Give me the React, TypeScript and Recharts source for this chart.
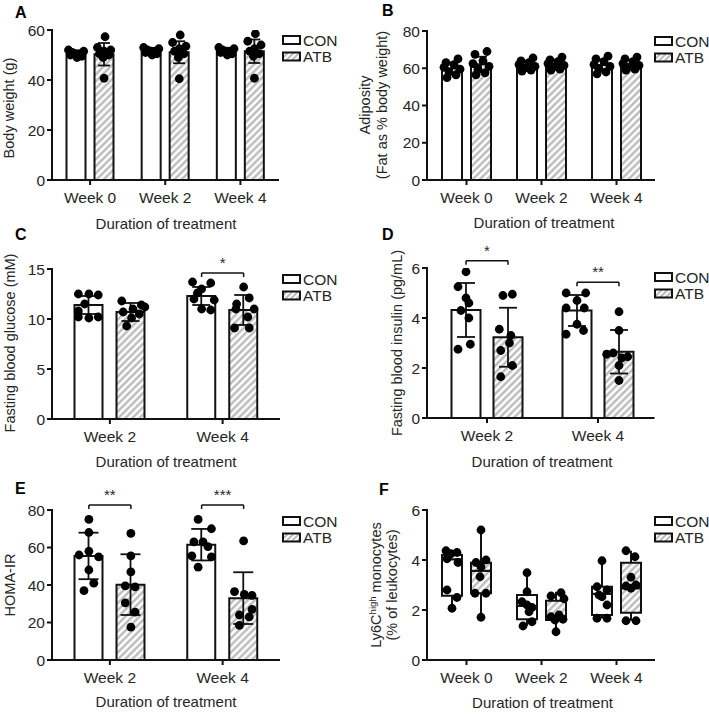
import React from 'react'
import { ComposedChart, Bar, Scatter, XAxis, YAxis, ErrorBar, ReferenceLine } from 'recharts'

const FONT = '"Liberation Sans", Arial, Helvetica, sans-serif'
const INK = '#111111'
const TEXT = '#262626'
const HATCH = '#b4b4b4'

const weeks3 = ['Week 0', 'Week 2', 'Week 4']
const weeks2 = ['Week 2', 'Week 4']
const groups = ['CON', 'ATB']

// A: body weight (g)
const bwConMean = [50.4, 51.4, 51.4]
const bwConSd = [1.0, 1.0, 1.0]
const bwAtbMean = [50.3, 51.1, 51.5]
const bwAtbSd = [4.5, 4.4, 4.7]
const bwConDots = [
  [52, 51.5, 51, 50.5, 50.5, 50, 49.5, 49],
  [53, 52.5, 52, 51.5, 51.5, 51, 50.5, 50],
  [53, 52.5, 52, 51.5, 51.5, 51, 50.5, 50],
]
const bwAtbDots = [
  [57.3, 53, 52, 51.5, 50.5, 50, 49, 40.7],
  [58, 55, 53.5, 52.5, 51.5, 50.5, 49, 40.5],
  [58.5, 55.5, 54, 52.5, 51.5, 50.5, 49.5, 40.7],
]

// B: adiposity (fat as % body weight)
const adConMean = [59.8, 61.7, 61.7]
const adConSd = [3.2, 2.3, 3.0]
const adAtbMean = [62.2, 62.1, 62.2]
const adAtbSd = [4.0, 2.2, 2.3]
const adConDots = [
  [65, 63, 62, 60.5, 59.5, 58, 56.5, 55],
  [65.5, 64, 63, 62, 61, 60, 59, 58.5],
  [66.5, 65, 63.5, 62, 61, 59.5, 58, 57],
]
const adAtbDots = [
  [69, 67.5, 64, 62.5, 61, 59.5, 57.5, 56.5],
  [66, 64.5, 63.5, 62.5, 61.5, 60.5, 59.5, 59],
  [66, 65, 63.5, 62.5, 61.5, 60.5, 59.5, 59],
]

// C: fasting blood glucose (mM)
const gluConMean = [11.4, 12.3]
const gluConSd = [0.9, 0.9]
const gluAtbMean = [10.7, 10.9]
const gluAtbSd = [0.9, 1.5]
const gluConDots = [
  [12.5, 12.5, 12.4, 11.5, 10.8, 10.2, 10.1, 10.2],
  [13.7, 13.6, 13.0, 12.6, 12.0, 11.9, 11.0, 10.9],
]
const gluAtbDots = [
  [11.8, 11.4, 11.0, 10.7, 10.1, 9.3, 10.5, 11.2],
  [13.2, 12.1, 11.5, 11.0, 11.0, 10.2, 9.1, 9.1],
]

// D: fasting blood insulin (pg/mL)
const insConMean = [4.32, 4.3]
const insConSd = [1.08, 0.62]
const insAtbMean = [3.23, 2.65]
const insAtbSd = [1.18, 0.87]
const insConDots = [
  [5.85, 5.25, 4.8, 4.6, 4.3, 4.0, 2.95, 2.75],
  [5.0, 5.0, 4.7, 4.4, 4.4, 3.75, 3.5, 3.35],
]
const insAtbDots = [
  [4.95, 4.9, 3.55, 3.3, 3.0, 2.7, 2.1, 1.65],
  [4.25, 3.5, 2.6, 2.55, 2.45, 2.4, 2.1, 1.5],
]

// E: HOMA-IR
const homaConMean = [55.5, 61.5]
const homaConSd = [12.4, 8.4]
const homaAtbMean = [40.2, 33.0]
const homaAtbSd = [16.2, 13.8]
const homaConDots = [
  [75, 68, 58, 56, 55, 48, 41, 37],
  [75, 70, 63, 63, 60.5, 55.5, 55, 49.5],
]
const homaAtbDots = [
  [67.5, 55.5, 47, 39.5, 39, 30.5, 25.5, 17.5],
  [63.5, 36.5, 35, 34.5, 27, 24, 23, 18.5],
]

// F: Ly6C-high monocytes (% of leukocytes), box = min / q1 / median / q3 / max
const monoConMin = [2.07, 1.36, 1.67]
const monoConQ1 = [2.57, 1.63, 1.8]
const monoConMed = [4.03, 2.16, 2.65]
const monoConQ3 = [4.2, 2.6, 2.93]
const monoConMax = [4.37, 3.49, 3.97]
const monoAtbMin = [1.71, 1.13, 1.57]
const monoAtbQ1 = [2.67, 1.6, 1.89]
const monoAtbMed = [3.57, 1.75, 2.87]
const monoAtbQ3 = [3.89, 2.37, 3.89]
const monoAtbMax = [5.2, 2.73, 4.37]
const monoConDots = [
  [4.37, 4.3, 4.25, 4.05, 3.9, 2.8, 2.5, 2.07],
  [3.49, 2.73, 2.33, 2.2, 2.1, 1.93, 1.53, 1.36],
  [3.97, 2.93, 2.8, 2.6, 2.53, 2.2, 1.67, 1.67],
]
const monoAtbDots = [
  [5.2, 4.0, 3.9, 3.73, 3.33, 2.67, 2.67, 1.71],
  [2.69, 2.56, 2.45, 1.8, 1.73, 1.63, 1.6, 1.13],
  [4.37, 4.13, 3.31, 3.0, 2.96, 2.87, 1.57, 1.57],
]

// horizontal scatter of the dots, in half bar widths
const rowJit = [-0.8, 0.8, -0.4, 0.4, 0, -0.6, 0.6, 0.1]
const looseJit = [0.1, -0.7, 0.7, 0, -0.5, 0.5, -0.1, 0]
const adJit = [0.6, -0.6, 0.2, -0.8, 0.8, -0.3, 0.4, -0.5]
const gluConJit = [[-0.75, 0, 0.67, -0.3, -0.75, -0.75, 0, 0.67], [-0.65, 0.65, 0, -0.3, -0.55, 0.9, 0, 0.65]]
const gluAtbJit = [[-0.65, 0.75, 0.15, -0.55, 0.05, -0.3, 0.6, 1.0], [0, 0.4, -0.5, -0.55, 0.75, 0.3, -0.65, 0.4]]
const insConJit = [[0, -0.55, 0, 0.2, -0.35, 0.2, 0.3, -0.55], [-0.75, 0.6, 0, -0.75, 0.5, 0, 0.45, -0.75]]
const insAtbJit = [[0.3, -0.35, -0.6, 0.2, 0.1, -0.5, 0.3, -0.5], [0, 0, -0.4, -0.85, 0.6, 0.2, 0, 0]]
const homaConJit = [[0, 0, 0, -0.7, 0.7, 0, 0.35, -0.35], [-0.25, 0.7, -0.55, 0.1, 0.45, -0.7, 0.7, -0.25]]
const homaAtbJit = [[0, 0, 0, -0.4, 0.3, -0.4, 0.3, 0], [0, -0.65, 0.05, 0.6, 0.6, -0.3, 0.4, -0.3]]
const monoConJit = [[-0.6, 0.5, -0.1, -0.5, 0.6, -0.5, 0.5, 0], [0, 0, -0.5, 0, 0.5, 0.2, 0.5, -0.4], [0, -0.5, 0.5, -0.3, 0, 0.5, -0.5, 0.5]]
const monoAtbJit = [[0, 0.5, -0.5, 0, -0.1, -0.6, 0.5, 0], [0.5, -0.5, 0.8, 0.3, -0.5, 0.7, -0.1, 0], [-0.5, 0.4, 0, 0.5, -0.5, 0, -0.5, 0.5]]

type Rect = { left: number; right: number; top: number; bottom: number }
type Bracket = { i: number; y: number; label: string }

const PAD_L = 60
const PAD_T = 45
const PAD_R = 10
const PAD_B = 40
const YW = 40
const XH = 30

const tickStyle = { fill: TEXT, fontSize: 15.5, fontFamily: FONT }
const axisLine = { stroke: INK, strokeWidth: 2, strokeLinecap: 'square' as const }
const tickLine = { stroke: INK, strokeWidth: 2 }

const dot = (p: any) => <circle cx={p.cx} cy={p.cy} r={4.4} fill="#000" />

function Hatch({ id }: { id: string }) {
  return (
    <pattern id={id} patternUnits="userSpaceOnUse" width={5} height={5} patternTransform="rotate(45)">
      <rect width={5} height={5} fill="#fff" />
      <line x1={1.5} y1={0} x2={1.5} y2={5} stroke={HATCH} strokeWidth={2.2} />
    </pattern>
  )
}

function frame(rect: Rect) {
  const plotW = rect.right - rect.left
  const plotH = rect.bottom - rect.top
  return {
    plotW,
    plotH,
    width: plotW + PAD_L + PAD_R,
    height: plotH + PAD_T + PAD_B,
    style: { position: 'absolute' as const, left: rect.left - PAD_L, top: rect.top - PAD_T },
    margin: { top: PAD_T, right: PAD_R, left: PAD_L - YW, bottom: PAD_B - XH },
  }
}

function dotsFor(values: number[][], jit: number[][] | number[], side: number, spread: number, half: number) {
  return values.flatMap((vals, i) =>
    vals.map((v, k) => {
      const j = Array.isArray(jit[0]) ? (jit as number[][])[i][k] : (jit as number[])[k]
      return { x: i + 0.5 + side * spread + j * half, y: v }
    }),
  )
}

type BarPanelProps = {
  id: string
  cats: string[]
  rect: Rect
  padLeft: number
  yMax: number
  ticks: number[]
  barSize: number
  barGap: number
  capW: number
  conMean: number[]
  conSd: number[]
  atbMean: number[]
  atbSd: number[]
  conDots: number[][]
  atbDots: number[][]
  conJit: number[][] | number[]
  atbJit: number[][] | number[]
  brackets?: Bracket[]
}

function BarPanel(p: BarPanelProps) {
  const f = frame(p.rect)
  const band = (f.plotW - p.padLeft) / p.cats.length
  const spread = (p.barSize + p.barGap) / 2 / band
  const half = p.barSize / 2 / band
  const rows = p.cats.map((week, i) => ({
    week,
    con: p.conMean[i],
    conSd: p.conSd[i],
    atb: p.atbMean[i],
    atbSd: p.atbSd[i],
  }))
  const conPts = dotsFor(p.conDots, p.conJit, -1, spread, half)
  const atbPts = dotsFor(p.atbDots, p.atbJit, 1, spread, half)
  const tick = (p.yMax * 4) / f.plotH
  const hatchId = `hatch-${p.id}`

  return (
    <div style={f.style}>
      <ComposedChart width={f.width} height={f.height} data={rows} margin={f.margin} barGap={p.barGap}>
        <defs>
          <Hatch id={hatchId} />
        </defs>
        <XAxis
          xAxisId="cat"
          dataKey="week"
          height={XH}
          interval={0}
          tickSize={5}
          tickMargin={7}
          padding={{ left: p.padLeft, right: 0 }}
          axisLine={axisLine}
          tickLine={tickLine}
          tick={tickStyle}
        />
        <XAxis
          xAxisId="num"
          type="number"
          dataKey="x"
          domain={[0, p.cats.length]}
          padding={{ left: p.padLeft, right: 0 }}
          allowDataOverflow
          hide
        />
        <YAxis
          type="number"
          domain={[0, p.yMax]}
          ticks={p.ticks}
          interval={0}
          width={YW}
          tickSize={5}
          tickMargin={2}
          allowDataOverflow
          axisLine={axisLine}
          tickLine={tickLine}
          tick={tickStyle}
        />
        <Bar xAxisId="cat" dataKey="con" barSize={p.barSize} fill="#fff" stroke={INK} strokeWidth={2} isAnimationActive={false}>
          <ErrorBar dataKey="conSd" width={p.capW} stroke={INK} strokeWidth={1.8} />
        </Bar>
        <Bar xAxisId="cat" dataKey="atb" barSize={p.barSize} fill={`url(#${hatchId})`} stroke={INK} strokeWidth={2} isAnimationActive={false}>
          <ErrorBar dataKey="atbSd" width={p.capW} stroke={INK} strokeWidth={1.8} />
        </Bar>
        <Scatter xAxisId="num" data={conPts} dataKey="y" shape={dot} isAnimationActive={false} />
        <Scatter xAxisId="num" data={atbPts} dataKey="y" shape={dot} isAnimationActive={false} />
        {(p.brackets || []).map((b, j) => {
          const a = b.i + 0.5 - spread
          const c = b.i + 0.5 + spread
          return (
            <React.Fragment key={j}>
              <ReferenceLine
                xAxisId="num"
                segment={[{ x: a, y: b.y }, { x: c, y: b.y }]}
                stroke={INK}
                strokeWidth={1.5}
                ifOverflow="visible"
                label={{ value: b.label, position: 'top', offset: 5, fill: TEXT, fontSize: 15, fontFamily: FONT }}
              />
              <ReferenceLine xAxisId="num" segment={[{ x: a, y: b.y }, { x: a, y: b.y - tick }]} stroke={INK} strokeWidth={1.5} ifOverflow="visible" />
              <ReferenceLine xAxisId="num" segment={[{ x: c, y: b.y }, { x: c, y: b.y - tick }]} stroke={INK} strokeWidth={1.5} ifOverflow="visible" />
            </React.Fragment>
          )
        })}
      </ComposedChart>
    </div>
  )
}

const none = () => <g />
const whisker = (p: any) => (
  <line x1={p.x + p.width / 2} x2={p.x + p.width / 2} y1={p.y} y2={p.y + p.height} stroke={INK} strokeWidth={2} />
)
const boxShape = (fill: string) => (p: any) => (
  <rect x={p.x} y={p.y} width={p.width} height={p.height} fill={fill} stroke={INK} strokeWidth={2} />
)

function BoxPanel() {
  const rect = { left: 427, right: 654, top: 510, bottom: 660 }
  const padLeft = 2
  const barSize = 20
  const barGap = 9
  const f = frame(rect)
  const band = (f.plotW - padLeft) / weeks3.length
  const spread = (barSize + barGap) / 2 / band
  const half = barSize / 2 / band
  const rows = weeks3.map((week, i) => ({
    week,
    conBase: monoConMin[i],
    conLow: monoConQ1[i] - monoConMin[i],
    conBoxLo: monoConMed[i] - monoConQ1[i],
    conBoxHi: monoConQ3[i] - monoConMed[i],
    conHigh: monoConMax[i] - monoConQ3[i],
    atbBase: monoAtbMin[i],
    atbLow: monoAtbQ1[i] - monoAtbMin[i],
    atbBoxLo: monoAtbMed[i] - monoAtbQ1[i],
    atbBoxHi: monoAtbQ3[i] - monoAtbMed[i],
    atbHigh: monoAtbMax[i] - monoAtbQ3[i],
  }))
  const conPts = dotsFor(monoConDots, monoConJit, -1, spread, half)
  const atbPts = dotsFor(monoAtbDots, monoAtbJit, 1, spread, half)
  const hatchId = 'hatch-F'
  const white = boxShape('#fff')
  const hatched = boxShape(`url(#${hatchId})`)

  return (
    <div style={f.style}>
      <ComposedChart width={f.width} height={f.height} data={rows} margin={f.margin} barGap={barGap}>
        <defs>
          <Hatch id={hatchId} />
        </defs>
        <XAxis
          xAxisId="cat"
          dataKey="week"
          height={XH}
          interval={0}
          tickSize={5}
          tickMargin={7}
          padding={{ left: padLeft, right: 0 }}
          axisLine={axisLine}
          tickLine={tickLine}
          tick={tickStyle}
        />
        <XAxis xAxisId="num" type="number" dataKey="x" domain={[0, 3]} padding={{ left: padLeft, right: 0 }} allowDataOverflow hide />
        <YAxis
          type="number"
          domain={[0, 6]}
          ticks={[0, 2, 4, 6]}
          interval={0}
          width={YW}
          tickSize={5}
          tickMargin={2}
          allowDataOverflow
          axisLine={axisLine}
          tickLine={tickLine}
          tick={tickStyle}
        />
        <Bar xAxisId="cat" stackId="con" dataKey="conBase" barSize={barSize} shape={none} isAnimationActive={false} />
        <Bar xAxisId="cat" stackId="con" dataKey="conLow" barSize={barSize} shape={whisker} isAnimationActive={false} />
        <Bar xAxisId="cat" stackId="con" dataKey="conBoxLo" barSize={barSize} shape={white} isAnimationActive={false} />
        <Bar xAxisId="cat" stackId="con" dataKey="conBoxHi" barSize={barSize} shape={white} isAnimationActive={false} />
        <Bar xAxisId="cat" stackId="con" dataKey="conHigh" barSize={barSize} shape={whisker} isAnimationActive={false} />
        <Bar xAxisId="cat" stackId="atb" dataKey="atbBase" barSize={barSize} shape={none} isAnimationActive={false} />
        <Bar xAxisId="cat" stackId="atb" dataKey="atbLow" barSize={barSize} shape={whisker} isAnimationActive={false} />
        <Bar xAxisId="cat" stackId="atb" dataKey="atbBoxLo" barSize={barSize} shape={hatched} isAnimationActive={false} />
        <Bar xAxisId="cat" stackId="atb" dataKey="atbBoxHi" barSize={barSize} shape={hatched} isAnimationActive={false} />
        <Bar xAxisId="cat" stackId="atb" dataKey="atbHigh" barSize={barSize} shape={whisker} isAnimationActive={false} />
        <Scatter xAxisId="num" data={conPts} dataKey="y" shape={dot} isAnimationActive={false} />
        <Scatter xAxisId="num" data={atbPts} dataKey="y" shape={dot} isAnimationActive={false} />
      </ComposedChart>
    </div>
  )
}

function Legend({ x, y }: { x: number; y: number }) {
  return (
    <g>
      {groups.map((g, i) => (
        <g key={g}>
          <rect
            x={x}
            y={y + i * 16.5}
            width={17}
            height={8}
            fill={i === 0 ? '#fff' : 'url(#hatch-legend)'}
            stroke={INK}
            strokeWidth={2}
          />
          <text x={x + 20} y={y + i * 16.5 + 9.6} fontSize={15.5} fill={TEXT}>
            {g}
          </text>
        </g>
      ))}
    </g>
  )
}

function YTitle({ x, y, children }: { x: number; y: number; children: React.ReactNode }) {
  return (
    <text transform={`translate(${x},${y}) rotate(-90)`} textAnchor="middle" dy="0.36em" fontSize={14.5} fill={TEXT}>
      {children}
    </text>
  )
}

function XTitle({ x, y }: { x: number; y: number }) {
  return (
    <text x={x} y={y} textAnchor="middle" fontSize={15} fill={TEXT}>
      Duration of treatment
    </text>
  )
}

function Overlay() {
  const letter = { fontSize: 16, fontWeight: 700, fill: '#000' }
  return (
    <svg width={709} height={715} style={{ position: 'absolute', left: 0, top: 0, pointerEvents: 'none' }} fontFamily={FONT}>
      <defs>
        <pattern id="hatch-legend" patternUnits="userSpaceOnUse" width={4} height={4} patternTransform="rotate(45)">
          <rect width={4} height={4} fill="#fff" />
          <line x1={1} y1={0} x2={1} y2={4} stroke={HATCH} strokeWidth={1.8} />
        </pattern>
      </defs>
      <text x={15} y={17.5} {...letter}>A</text>
      <text x={382} y={16} {...letter}>B</text>
      <text x={15} y={240} {...letter}>C</text>
      <text x={382} y={240} {...letter}>D</text>
      <text x={15} y={494} {...letter}>E</text>
      <text x={379} y={495} {...letter}>F</text>

      <YTitle x={9} y={108}>Body weight (g)</YTitle>
      <YTitle x={365} y={105}>Adiposity</YTitle>
      <YTitle x={382} y={105}>(Fat as % body weight)</YTitle>
      <YTitle x={10} y={343}>Fasting blood glucose (mM)</YTitle>
      <YTitle x={397} y={343}>Fasting blood insulin (pg/mL)</YTitle>
      <YTitle x={10} y={585}>HOMA-IR</YTitle>
      <YTitle x={376} y={585}>
        Ly6C
        <tspan fontSize={9.5} dy="-0.55em">high</tspan>
        <tspan dy="0.35em"> monocytes</tspan>
      </YTitle>
      <YTitle x={392} y={585}>(% of leukocytes)</YTitle>

      <XTitle x={166} y={228.5} />
      <XTitle x={544} y={228} />
      <XTitle x={166} y={466.5} />
      <XTitle x={542} y={466.5} />
      <XTitle x={166} y={706.5} />
      <XTitle x={542.5} y={708} />

      <Legend x={283} y={36} />
      <Legend x={655} y={37} />
      <Legend x={283} y={275} />
      <Legend x={655} y={273} />
      <Legend x={283} y={517} />
      <Legend x={655} y={517} />
    </svg>
  )
}

export default function App() {
  return (
    <div style={{ position: 'absolute', left: 0, top: 0, width: 709, height: 715, background: '#fff', overflow: 'hidden', fontFamily: FONT }}>
      <BarPanel
        id="A"
        cats={weeks3}
        rect={{ left: 52, right: 278, top: 30, bottom: 180 }}
        padLeft={0.5}
        yMax={60}
        ticks={[0, 20, 40, 60]}
        barSize={19}
        barGap={9}
        capW={6}
        conMean={bwConMean}
        conSd={bwConSd}
        atbMean={bwAtbMean}
        atbSd={bwAtbSd}
        conDots={bwConDots}
        atbDots={bwAtbDots}
        conJit={rowJit}
        atbJit={looseJit}
      />
      <BarPanel
        id="B"
        cats={weeks3}
        rect={{ left: 427, right: 654, top: 31, bottom: 180 }}
        padLeft={2}
        yMax={80}
        ticks={[0, 20, 40, 60, 80]}
        barSize={20}
        barGap={9}
        capW={6}
        conMean={adConMean}
        conSd={adConSd}
        atbMean={adAtbMean}
        atbSd={adAtbSd}
        conDots={adConDots}
        atbDots={adAtbDots}
        conJit={adJit}
        atbJit={adJit}
      />
      <BarPanel
        id="C"
        cats={weeks2}
        rect={{ left: 52, right: 279, top: 269, bottom: 419 }}
        padLeft={1.5}
        yMax={15}
        ticks={[0, 5, 10, 15]}
        barSize={28}
        barGap={14}
        capW={9}
        conMean={gluConMean}
        conSd={gluConSd}
        atbMean={gluAtbMean}
        atbSd={gluAtbSd}
        conDots={gluConDots}
        atbDots={gluAtbDots}
        conJit={gluConJit}
        atbJit={gluAtbJit}
        brackets={[{ i: 1, y: 14.6, label: '*' }]}
      />
      <BarPanel
        id="D"
        cats={weeks2}
        rect={{ left: 427, right: 653.5, top: 268, bottom: 418 }}
        padLeft={4.5}
        yMax={6}
        ticks={[0, 2, 4, 6]}
        barSize={29}
        barGap={13}
        capW={9}
        conMean={insConMean}
        conSd={insConSd}
        atbMean={insAtbMean}
        atbSd={insAtbSd}
        conDots={insConDots}
        atbDots={insAtbDots}
        conJit={insConJit}
        atbJit={insAtbJit}
        brackets={[
          { i: 0, y: 6.29, label: '*' },
          { i: 1, y: 5.43, label: '**' },
        ]}
      />
      <BarPanel
        id="E"
        cats={weeks2}
        rect={{ left: 52, right: 279, top: 510, bottom: 660 }}
        padLeft={1.5}
        yMax={80}
        ticks={[0, 20, 40, 60, 80]}
        barSize={28}
        barGap={14}
        capW={10}
        conMean={homaConMean}
        conSd={homaConSd}
        atbMean={homaAtbMean}
        atbSd={homaAtbSd}
        conDots={homaConDots}
        atbDots={homaAtbDots}
        conJit={homaConJit}
        atbJit={homaAtbJit}
        brackets={[
          { i: 0, y: 82.7, label: '**' },
          { i: 1, y: 82.7, label: '***' },
        ]}
      />
      <BoxPanel />
      <Overlay />
    </div>
  )
}
